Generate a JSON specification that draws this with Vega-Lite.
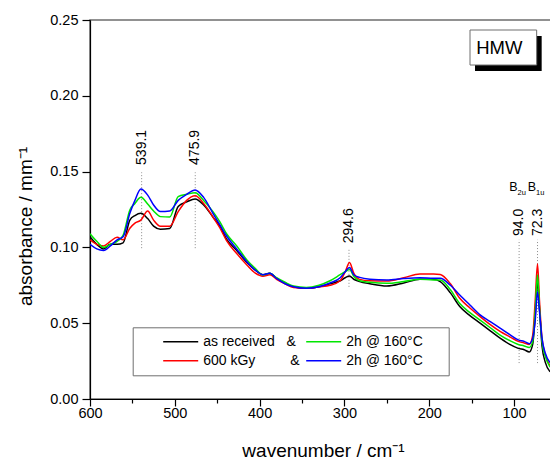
{
  "$schema": "https://vega.github.io/schema/vega-lite/v6.json",
  "autosize": "none",
  "padding": {"left": 90, "top": 20, "right": 0, "bottom": 62},
  "width": 461,
  "height": 379,
  "config": {
    "view": {"stroke": "#6e6e6e", "strokeWidth": 1.5},
    "font": "Liberation Sans",
    "axis": {"domainColor": "#000000", "tickColor": "#000000", "labelColor": "#000000", "titleColor": "#000000", "grid": false, "labelFont": "Liberation Sans", "titleFont": "Liberation Sans", "titleFontWeight": "normal", "domainWidth": 1.2, "tickWidth": 1.2}
  },
  "datasets": {
    "spectra": [
      {"wavenumber": 600, "received": 0.107, "received_2h": 0.109, "irradiated": 0.105, "irradiated_2h": 0.102},
      {"wavenumber": 592, "received": 0.102, "received_2h": 0.104, "irradiated": 0.102, "irradiated_2h": 0.099},
      {"wavenumber": 584, "received": 0.099, "received_2h": 0.100, "irradiated": 0.101, "irradiated_2h": 0.098},
      {"wavenumber": 576, "received": 0.102, "received_2h": 0.102, "irradiated": 0.104, "irradiated_2h": 0.101},
      {"wavenumber": 568, "received": 0.102, "received_2h": 0.104, "irradiated": 0.1067, "irradiated_2h": 0.105},
      {"wavenumber": 561, "received": 0.103, "received_2h": 0.108, "irradiated": 0.105, "irradiated_2h": 0.107},
      {"wavenumber": 553, "received": 0.118, "received_2h": 0.1247, "irradiated": 0.1126, "irradiated_2h": 0.1225},
      {"wavenumber": 547, "received": 0.121, "received_2h": 0.129, "irradiated": 0.116, "irradiated_2h": 0.131},
      {"wavenumber": 540, "received": 0.1225, "received_2h": 0.133, "irradiated": 0.118, "irradiated_2h": 0.1385},
      {"wavenumber": 532, "received": 0.119, "received_2h": 0.1286, "irradiated": 0.124, "irradiated_2h": 0.1345},
      {"wavenumber": 525, "received": 0.114, "received_2h": 0.124, "irradiated": 0.118, "irradiated_2h": 0.128},
      {"wavenumber": 517, "received": 0.112, "received_2h": 0.1203, "irradiated": 0.114, "irradiated_2h": 0.1236},
      {"wavenumber": 506, "received": 0.1125, "received_2h": 0.120, "irradiated": 0.114, "irradiated_2h": 0.124},
      {"wavenumber": 496, "received": 0.127, "received_2h": 0.1335, "irradiated": 0.1236, "irradiated_2h": 0.131},
      {"wavenumber": 486, "received": 0.130, "received_2h": 0.135, "irradiated": 0.131, "irradiated_2h": 0.135},
      {"wavenumber": 476, "received": 0.132, "received_2h": 0.136, "irradiated": 0.134, "irradiated_2h": 0.1379},
      {"wavenumber": 466, "received": 0.128, "received_2h": 0.131, "irradiated": 0.129, "irradiated_2h": 0.133},
      {"wavenumber": 455, "received": 0.120, "received_2h": 0.1236, "irradiated": 0.120, "irradiated_2h": 0.1225},
      {"wavenumber": 447, "received": 0.114, "received_2h": 0.117, "irradiated": 0.113, "irradiated_2h": 0.115},
      {"wavenumber": 439, "received": 0.1055, "received_2h": 0.109, "irradiated": 0.1045, "irradiated_2h": 0.1075},
      {"wavenumber": 427, "received": 0.098, "received_2h": 0.101, "irradiated": 0.096, "irradiated_2h": 0.099},
      {"wavenumber": 415, "received": 0.090, "received_2h": 0.0917, "irradiated": 0.0884, "irradiated_2h": 0.0906},
      {"wavenumber": 405, "received": 0.085, "received_2h": 0.086, "irradiated": 0.083, "irradiated_2h": 0.085},
      {"wavenumber": 396, "received": 0.082, "received_2h": 0.0818, "irradiated": 0.081, "irradiated_2h": 0.082},
      {"wavenumber": 388, "received": 0.083, "received_2h": 0.083, "irradiated": 0.082, "irradiated_2h": 0.083},
      {"wavenumber": 380, "received": 0.0795, "received_2h": 0.080, "irradiated": 0.079, "irradiated_2h": 0.0795},
      {"wavenumber": 370, "received": 0.0765, "received_2h": 0.077, "irradiated": 0.076, "irradiated_2h": 0.076},
      {"wavenumber": 360, "received": 0.074, "received_2h": 0.0745, "irradiated": 0.0735, "irradiated_2h": 0.074},
      {"wavenumber": 345, "received": 0.073, "received_2h": 0.0735, "irradiated": 0.073, "irradiated_2h": 0.073},
      {"wavenumber": 330, "received": 0.074, "received_2h": 0.075, "irradiated": 0.074, "irradiated_2h": 0.074},
      {"wavenumber": 317, "received": 0.076, "received_2h": 0.078, "irradiated": 0.075, "irradiated_2h": 0.0765},
      {"wavenumber": 305, "received": 0.078, "received_2h": 0.082, "irradiated": 0.078, "irradiated_2h": 0.080},
      {"wavenumber": 299, "received": 0.080, "received_2h": 0.084, "irradiated": 0.084, "irradiated_2h": 0.084},
      {"wavenumber": 294, "received": 0.0811, "received_2h": 0.0855, "irradiated": 0.090, "irradiated_2h": 0.0868},
      {"wavenumber": 289, "received": 0.079, "received_2h": 0.081, "irradiated": 0.083, "irradiated_2h": 0.082},
      {"wavenumber": 282, "received": 0.0774, "received_2h": 0.078, "irradiated": 0.0789, "irradiated_2h": 0.0802},
      {"wavenumber": 270, "received": 0.076, "received_2h": 0.077, "irradiated": 0.078, "irradiated_2h": 0.079},
      {"wavenumber": 250, "received": 0.0745, "received_2h": 0.0763, "irradiated": 0.0778, "irradiated_2h": 0.0785},
      {"wavenumber": 230, "received": 0.0765, "received_2h": 0.0775, "irradiated": 0.080, "irradiated_2h": 0.0795},
      {"wavenumber": 211, "received": 0.079, "received_2h": 0.079, "irradiated": 0.0825, "irradiated_2h": 0.080},
      {"wavenumber": 195, "received": 0.079, "received_2h": 0.0785, "irradiated": 0.0825, "irradiated_2h": 0.0796},
      {"wavenumber": 187, "received": 0.0774, "received_2h": 0.0785, "irradiated": 0.0822, "irradiated_2h": 0.0796},
      {"wavenumber": 175, "received": 0.070, "received_2h": 0.072, "irradiated": 0.076, "irradiated_2h": 0.075},
      {"wavenumber": 164, "received": 0.061, "received_2h": 0.063, "irradiated": 0.0664, "irradiated_2h": 0.0686},
      {"wavenumber": 152, "received": 0.055, "received_2h": 0.057, "irradiated": 0.060, "irradiated_2h": 0.062},
      {"wavenumber": 140, "received": 0.050, "received_2h": 0.052, "irradiated": 0.0543, "irradiated_2h": 0.0555},
      {"wavenumber": 128, "received": 0.045, "received_2h": 0.047, "irradiated": 0.049, "irradiated_2h": 0.051},
      {"wavenumber": 116, "received": 0.040, "received_2h": 0.042, "irradiated": 0.0444, "irradiated_2h": 0.0466},
      {"wavenumber": 105, "received": 0.036, "received_2h": 0.0385, "irradiated": 0.041, "irradiated_2h": 0.0425},
      {"wavenumber": 95, "received": 0.0334, "received_2h": 0.036, "irradiated": 0.038, "irradiated_2h": 0.039},
      {"wavenumber": 88, "received": 0.0325, "received_2h": 0.035, "irradiated": 0.037, "irradiated_2h": 0.038},
      {"wavenumber": 82, "received": 0.031, "received_2h": 0.034, "irradiated": 0.036, "irradiated_2h": 0.0365},
      {"wavenumber": 78, "received": 0.036, "received_2h": 0.038, "irradiated": 0.042, "irradiated_2h": 0.040},
      {"wavenumber": 75, "received": 0.055, "received_2h": 0.058, "irradiated": 0.065, "irradiated_2h": 0.052},
      {"wavenumber": 72.3, "received": 0.078, "received_2h": 0.0818, "irradiated": 0.089, "irradiated_2h": 0.0708},
      {"wavenumber": 70, "received": 0.060, "received_2h": 0.060, "irradiated": 0.065, "irradiated_2h": 0.058},
      {"wavenumber": 67, "received": 0.035, "received_2h": 0.038, "irradiated": 0.040, "irradiated_2h": 0.040},
      {"wavenumber": 63, "received": 0.024, "received_2h": 0.028, "irradiated": 0.029, "irradiated_2h": 0.030},
      {"wavenumber": 57.5, "received": 0.018, "received_2h": 0.021, "irradiated": 0.022, "irradiated_2h": 0.024}
    ],
    "peaks": [
      {"wavenumber": 539.1, "label": "539.1", "labelAt": 0.1544, "from": 0.0995, "to": 0.1495},
      {"wavenumber": 475.9, "label": "475.9", "labelAt": 0.1544, "from": 0.0995, "to": 0.1495},
      {"wavenumber": 294.6, "label": "294.6", "labelAt": 0.1027, "from": 0.074, "to": 0.0994},
      {"wavenumber": 94.0, "label": "94.0", "labelAt": 0.1075, "from": 0.0237, "to": 0.105},
      {"wavenumber": 72.3, "label": "72.3", "labelAt": 0.1075, "from": 0.0237, "to": 0.105}
    ],
    "bands": [
      {"wavenumber": 94.0, "symmetry": "B", "index": "2u", "at": 0.1375},
      {"wavenumber": 72.3, "symmetry": "B", "index": "1u", "at": 0.1375}
    ]
  },
  "layer": [
    {
      "data": {"name": "peaks"},
      "mark": {"type": "rule", "color": "#8a8a8a", "strokeDash": [1, 2], "strokeWidth": 1},
      "encoding": {
        "x": {"field": "wavenumber", "type": "quantitative"},
        "y": {"field": "from", "type": "quantitative"},
        "y2": {"field": "to"}
      }
    },
    {
      "data": {"name": "spectra"},
      "transform": [{"fold": ["received", "irradiated", "received_2h", "irradiated_2h"], "as": ["series", "absorbance"]}],
      "mark": {"type": "line", "strokeWidth": 1.5, "interpolate": "monotone", "clip": true},
      "encoding": {
        "x": {
          "field": "wavenumber", "type": "quantitative",
          "scale": {"domain": [56.4, 600], "reverse": true, "nice": false, "zero": false},
          "axis": {
            "title": "wavenumber / cm⁻¹", "titleFontSize": 19, "titleX": 233, "titleY": 57, "titleBaseline": "alphabetic",
            "values": [600, 550, 500, 450, 400, 350, 300, 250, 200, 150, 100],
            "labelExpr": "datum.value % 100 === 0 ? datum.label : ''",
            "format": "d", "labelFontSize": 14.5, "labelPadding": 0, "labelOverlap": false, "labelFlush": false,
            "tickSize": {"condition": {"test": "datum.value % 100 === 0", "value": 7}, "value": 4}
          }
        },
        "y": {
          "field": "absorbance", "type": "quantitative",
          "scale": {"domain": [0, 0.25], "nice": false, "zero": false},
          "axis": {
            "title": "absorbance / mm⁻¹", "titleFontSize": 19, "titleX": -65, "titleY": 206, "titleBaseline": "middle",
            "values": [0, 0.025, 0.05, 0.075, 0.1, 0.125, 0.15, 0.175, 0.2, 0.225, 0.25],
            "labelExpr": "abs(datum.value * 20 - round(datum.value * 20)) < 0.001 ? format(datum.value, '.2f') : ''",
            "labelFontSize": 14.5, "labelPadding": 4, "labelOverlap": false, "labelFlush": false,
            "tickSize": {"condition": {"test": "abs(datum.value * 20 - round(datum.value * 20)) < 0.001", "value": 8}, "value": 4}
          }
        },
        "color": {
          "field": "series", "type": "nominal",
          "scale": {"domain": ["received", "received_2h", "irradiated", "irradiated_2h"], "range": ["#000000", "#00e600", "#ff0000", "#0000ff"]},
          "legend": {
            "orient": "none", "legendX": 42.7, "legendY": 307.3, "columns": 2, "direction": "horizontal",
            "title": "\u00a0", "titleOrient": "left", "titlePadding": 22, "titleFontSize": 12,
            "symbolType": "stroke", "symbolSize": 1225, "symbolStrokeWidth": 1.5, "clipHeight": 14,
            "labelFontSize": 14, "labelFont": "Liberation Sans", "labelColor": "#000000", "labelOffset": 4, "labelLimit": 300,
            "rowPadding": 5, "columnPadding": 5, "padding": 7.5,
            "strokeColor": "#6e6e6e", "fillColor": "#ffffff",
            "labelExpr": "datum.label === 'received' ? 'as received\u00a0\u00a0\u00a0&' : datum.label === 'irradiated' ? '600 kGy\u00a0\u00a0\u00a0\u00a0\u00a0\u00a0\u00a0\u00a0\u00a0&' : '2h @ 160°C\u00a0\u00a0\u2800'"
          }
        }
      }
    },
    {
      "data": {"name": "peaks"},
      "mark": {"type": "text", "angle": 270, "align": "left", "baseline": "middle", "fontSize": 14, "font": "Liberation Sans", "color": "#000000"},
      "encoding": {
        "x": {"field": "wavenumber", "type": "quantitative"},
        "y": {"field": "labelAt", "type": "quantitative"},
        "text": {"field": "label"}
      }
    },
    {
      "data": {"name": "bands"},
      "mark": {"type": "text", "align": "right", "baseline": "alphabetic", "fontSize": 12.5, "dx": -1.5, "font": "Liberation Sans", "color": "#000000"},
      "encoding": {
        "x": {"field": "wavenumber", "type": "quantitative"},
        "y": {"field": "at", "type": "quantitative"},
        "text": {"field": "symmetry"}
      }
    },
    {
      "data": {"name": "bands"},
      "mark": {"type": "text", "align": "left", "baseline": "alphabetic", "fontSize": 7.5, "dx": -1.5, "dy": 4, "font": "Liberation Sans", "color": "#000000"},
      "encoding": {
        "x": {"field": "wavenumber", "type": "quantitative"},
        "y": {"field": "at", "type": "quantitative"},
        "text": {"field": "index"}
      }
    },
    {
      "data": {"values": [{"sample": "HMW"}]},
      "mark": {"type": "rect", "color": "#000000", "xOffset": 5, "x2Offset": 5, "yOffset": 6, "y2Offset": 6},
      "encoding": {
        "x": {"datum": 151.9, "type": "quantitative"},
        "x2": {"datum": 73.3},
        "y": {"datum": 0.2434, "type": "quantitative"},
        "y2": {"datum": 0.2203}
      }
    },
    {
      "data": {"values": [{"sample": "HMW"}]},
      "mark": {"type": "rect", "fill": "#ffffff", "stroke": "#6e6e6e", "strokeWidth": 1},
      "encoding": {
        "x": {"datum": 151.9, "type": "quantitative"},
        "x2": {"datum": 73.3},
        "y": {"datum": 0.2434, "type": "quantitative"},
        "y2": {"datum": 0.2203}
      }
    },
    {
      "data": {"values": [{"sample": "HMW"}]},
      "mark": {"type": "text", "fontSize": 18.5, "align": "center", "baseline": "middle", "dx": -4, "font": "Liberation Sans", "color": "#000000"},
      "encoding": {
        "x": {"datum": 112.6, "type": "quantitative"},
        "y": {"datum": 0.2318, "type": "quantitative"},
        "text": {"field": "sample"}
      }
    }
  ]
}
